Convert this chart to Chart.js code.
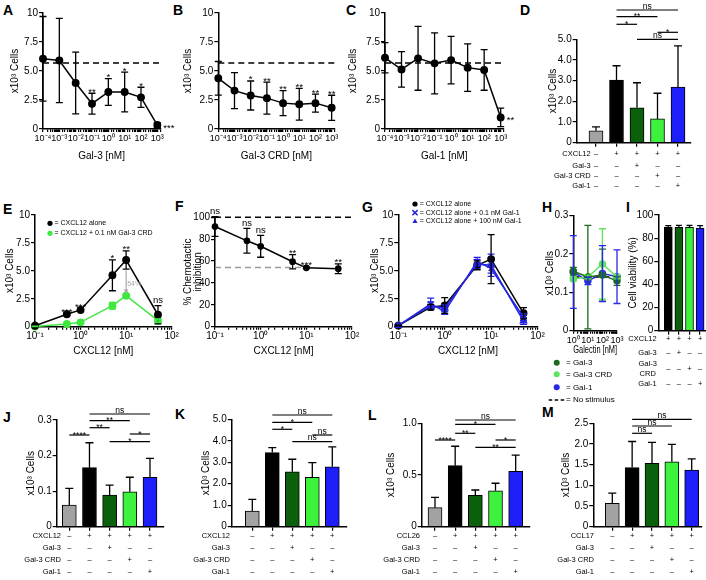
<!DOCTYPE html>
<html>
<head>
<meta charset="utf-8">
<title>Galectin chemotaxis</title>
<script src="https://cdn.jsdelivr.net/npm/chart.js@4.4.1/dist/chart.umd.min.js"></script>
<style>
  body { margin: 0; background: #fff; }
  #fig { position: relative; width: 706px; height: 580px; overflow: hidden; font-family: "Liberation Sans", Arial, sans-serif; }
  #fig canvas { position: absolute; }
  .lt { position: absolute; font-weight: bold; font-size: 14px; line-height: 14px; }
</style>
</head>
<body>
<div id="fig">
  <div class="lt" style="left:3px;top:3px">A</div>
  <div class="lt" style="left:173px;top:3px">B</div>
  <div class="lt" style="left:346px;top:3px">C</div>
  <div class="lt" style="left:520px;top:3px">D</div>
  <div class="lt" style="left:3px;top:202px">E</div>
  <div class="lt" style="left:175px;top:199px">F</div>
  <div class="lt" style="left:362px;top:200px">G</div>
  <div class="lt" style="left:542px;top:200px">H</div>
  <div class="lt" style="left:626px;top:200px">I</div>
  <div class="lt" style="left:3px;top:410px">J</div>
  <div class="lt" style="left:175px;top:407px">K</div>
  <div class="lt" style="left:368px;top:408px">L</div>
  <div class="lt" style="left:542px;top:405px">M</div>
</div>
<script>
const FONT = '"Liberation Sans", Arial, Helvetica, sans-serif';
Chart.defaults.font.family = FONT;
Chart.defaults.font.size = 10;
Chart.defaults.color = '#000';

// ---- A-C: galectin dose response (x10^3 cells) ----
const doses = [1e-4, 1e-3, 1e-2, 1e-1, 1, 10, 100, 1000];
const noStimulus = 5.7;
const gal3Cells = [6.05, 5.9, 3.97, 2.18, 3.19, 3.19, 2.73, 0.34];
const gal3Sd = [3.65, 3.63, 2.66, 0.9, 1.16, 1.72, 0.87, 0.2];
const gal3Sig = ['', '', '', '**', '*', '*', '*', '***'];
const crdCells = [4.37, 3.31, 2.89, 2.66, 2.23, 2.14, 2.23, 1.83];
const crdSd = [1.45, 1.55, 1.25, 1.38, 1.07, 1.37, 0.77, 1.08];
const crdSig = ['', '', '*', '**', '**', '**', '**', '**'];
const gal1Cells = [6.14, 5.14, 6.09, 5.66, 5.94, 5.29, 5.09, 1.0];
const gal1Sd = [1.3, 1.53, 2.75, 2.63, 2.05, 2.04, 1.75, 0.8];
const gal1Sig = ['', '', '', '', '', '', '', '**'];

// ---- E-G: CXCL12 titration ----
const conc = [0.1, 0.5, 1, 5, 10, 50];
const eAlone = [0.09, 1.11, 1.5, 4.6, 5.97, 1.07];
const eAloneSd = [0.05, 0.08, 0.1, 1.38, 0.82, 0.82];
const eCrd = [0.02, 0.24, 0.39, 1.88, 2.78, 0.54];
const eCrdSd = [0.02, 0.05, 0.05, 0.3, 0.1, 0.15];
const eSig = ['*', '***', '***', '*', '**', 'ns'];
const eDrop = '54%';
const fInhib = [91.6, 78.5, 73.5, 59.4, 53.8, 53];
const fSd = [9, 11.3, 10, 6.5, 0.8, 4.5];
const fSig = ['ns', 'ns', 'ns', '**', '***', '**'];
const fFull = 100, fPlateau = 54;
const gAlone = [0.1, 1.75, 1.9, 5.5, 6.05, 1.2];
const gAloneSd = [0.05, 0.25, 0.7, 0.4, 2.2, 0.5];
const gLow = [0.1, 2.05, 1.35, 5.85, 5.2, 0.85];
const gLowSd = [0.05, 0.5, 0.25, 0.35, 0.4, 0.3];
const gHigh = [0.1, 1.9, 1.65, 5.6, 5.5, 0.5];
const gHighSd = [0.05, 0.3, 0.3, 0.4, 1.0, 0.3];

// ---- H: galectin alone ----
const hDoses = [1, 10, 100, 1000];
const hGal3 = [0.155, 0.14, 0.145, 0.13];
const hGal3Sd = [0.01, 0.135, 0.068, 0.012];
const hCrd = [0.135, 0.14, 0.174, 0.14];
const hCrdSd = [0.005, 0.005, 0.092, 0.005];
const hGal1 = [0.153, 0.13, 0.149, 0.141];
const hGal1Sd = [0.095, 0.01, 0.073, 0.07];
const hNoStim = 0.14;

// ---- bar panels ----
const dCells = [0.58, 3.03, 1.69, 1.15, 2.69];
const dSd = [0.19, 0.69, 1.21, 1.24, 1.99];
const dSig = [[1, 4, 'ns'], [1, 3, '**'], [1, 2, '*'], [3, 4, '*'], [2, 4, 'ns']];
const iViab = [89.5, 89.3, 89.3, 88.8];
const iSd = [1.3, 1.8, 1.8, 2.0];
const jCells = [0.061, 0.166, 0.089, 0.098, 0.139];
const jSd = [0.047, 0.07, 0.028, 0.041, 0.053];
const jSig = [[1, 4, 'ns'], [1, 3, '**'], [1, 2, '**'], [0, 1, '****'], [3, 4, '*'], [2, 4, '*']];
const kCells = [0.73, 3.45, 2.56, 2.3, 2.79];
const kSd = [0.54, 0.23, 0.58, 0.68, 0.93];
const kSig = [[1, 4, 'ns'], [1, 3, '*'], [1, 2, '*'], [3, 4, 'ns'], [2, 4, 'ns']];
const lCells = [0.184, 0.59, 0.304, 0.348, 0.536];
const lSd = [0.1, 0.188, 0.051, 0.072, 0.157];
const lSig = [[1, 4, 'ns'], [1, 3, '*'], [1, 2, '**'], [0, 1, '****'], [3, 4, '*'], [2, 4, '**']];
const mCells = [0.566, 1.43, 1.53, 1.57, 1.37];
const mSd = [0.244, 0.63, 0.51, 0.42, 0.27];
const mSig = [[1, 4, 'ns'], [1, 3, 'ns'], [1, 2, 'ns']];
const gal3Row = '––+––', crdRow = '–––+–', gal1Row = '––––+', chemoRow = '–++++';

const GREY = '#a2a2a2', DKGREEN = '#0b600b', GREEN = '#3cf23c', BLUE = '#1e1ef8';
const barColors = [GREY, '#000', DKGREEN, GREEN, BLUE];

const SUP = {'-': '⁻', '0': '⁰', '1': '¹', '2': '²', '3': '³', '4': '⁴', '5': '⁵', '6': '⁶', '7': '⁷', '8': '⁸', '9': '⁹'};
function fmtLog(v) {
  const e = Math.log10(v), r = Math.round(e);
  if (Math.abs(e - r) > 1e-6) return '';
  return '10' + String(r).split('').map(c => SUP[c]).join('');
}
function fmtLin(v) {
  if (Math.abs(v) < 1e-9) return '0';
  const r = Math.round(v);
  return (v >= 10 && Math.abs(v - r) < 1e-6) ? String(r) : v.toFixed(1);
}

function ser(xs, ys, sd, color, style, extra) {
  return Object.assign({
    data: xs.map((x, i) => ({x: x, y: ys[i]})), err: sd,
    borderColor: color, backgroundColor: color, pointBackgroundColor: color, pointBorderColor: color,
    pointStyle: style, pointRadius: 3.2, pointBorderWidth: 1.5, borderWidth: 1.5, clip: false
  }, extra || {});
}
function flat(v, x0, x1, color) {
  return {data: [{x: x0, y: v}, {x: x1, y: v}], borderColor: color, borderDash: [6, 4],
          borderWidth: 1.5, pointRadius: 0, clip: false};
}
function bars(vals, sd, colors, thick) {
  return {data: vals.map((v, i) => ({x: i, y: v})), err: sd, upOnly: true, cap: thick > 10 ? 4 : 3,
          errColor: '#000', backgroundColor: colors, borderColor: '#000', borderWidth: 1,
          barThickness: thick, clip: false};
}

function drawMark(ctx, mk, color, x, y, r) {
  ctx.save();
  ctx.fillStyle = color; ctx.strokeStyle = color; ctx.lineWidth = 1.5;
  ctx.beginPath();
  if (mk === 'circle') { ctx.arc(x, y, r, 0, Math.PI * 2); ctx.fill(); }
  else if (mk === 'crossRot') { ctx.moveTo(x - r, y - r); ctx.lineTo(x + r, y + r); ctx.moveTo(x + r, y - r); ctx.lineTo(x - r, y + r); ctx.stroke(); }
  else if (mk === 'triangle') { ctx.moveTo(x, y - r); ctx.lineTo(x + r, y + r * 0.8); ctx.lineTo(x - r, y + r * 0.8); ctx.closePath(); ctx.fill(); }
  else if (mk === 'dash') { ctx.setLineDash([3.5, 2.5]); ctx.moveTo(x - 8, y); ctx.lineTo(x + 8, y); ctx.stroke(); }
  ctx.restore();
}

// asterisks sit high in the font, "ns" sits low
function textAbove(ctx, t, x, y, starDy, nsDy) {
  ctx.textAlign = 'center'; ctx.textBaseline = 'alphabetic';
  ctx.fillText(t, x, /^\*+$/.test(t) ? y + starDy : y + nsDy);
}

function extras(p) {
  return {
    id: 'extras',
    afterDatasetsDraw(chart) {
      const ctx = chart.ctx, xs = chart.scales.x, ys = chart.scales.y;
      const ox = p.box.x, oy = p.box.y;
      ctx.save();
      // error bars
      chart.data.datasets.forEach((ds, i) => {
        if (!ds.err) return;
        const pts = chart.getDatasetMeta(i).data;
        ctx.strokeStyle = ds.errColor || ds.borderColor;
        ctx.lineWidth = 1.3;
        const cap = ds.cap || 3.5;
        pts.forEach((el, j) => {
          const e = ds.err[j];
          if (!e) return;
          const v = ds.data[j].y;
          const yt = ys.getPixelForValue(v + e);
          const yb = ys.getPixelForValue(ds.upOnly ? v : v - e);
          ctx.beginPath();
          ctx.moveTo(el.x, yb); ctx.lineTo(el.x, yt);
          ctx.moveTo(el.x - cap, yt); ctx.lineTo(el.x + cap, yt);
          if (!ds.upOnly) { ctx.moveTo(el.x - cap, yb); ctx.lineTo(el.x + cap, yb); }
          ctx.stroke();
        });
      });
      ctx.fillStyle = '#000'; ctx.strokeStyle = '#000';
      // significance over points
      if (p.stars) {
        const ds = chart.data.datasets[0], pts = chart.getDatasetMeta(0).data;
        ctx.font = '9.5px ' + FONT;
        p.stars.labels.forEach((t, j) => {
          if (!t) return;
          const el = pts[j];
          if ((p.stars.right || []).includes(j)) {
            ctx.textAlign = 'left'; ctx.textBaseline = 'alphabetic';
            ctx.fillText(t, el.x + 6, el.y + 5.5);
          } else {
            textAbove(ctx, t, el.x, ys.getPixelForValue(ds.data[j].y + (ds.err[j] || 0)), 1.5, -2.5);
          }
        });
      }
      // comparison brackets
      if (p.sig) {
        ctx.lineWidth = 1.2; ctx.font = '8.5px ' + FONT;
        p.sig.list.forEach(([i1, i2, t], k) => {
          const y = p.sig.ys[k] - oy, x1 = xs.getPixelForValue(i1), x2 = xs.getPixelForValue(i2);
          ctx.beginPath(); ctx.moveTo(x1, y); ctx.lineTo(x2, y); ctx.stroke();
          textAbove(ctx, t, (x1 + x2) / 2, y, 2.5, -1.5);
        });
      }
      // treatment table
      if (p.table) {
        ctx.font = '7.5px ' + FONT; ctx.textBaseline = 'middle';
        p.table.rows.forEach(([label, marks], r) => {
          const y = p.area.b - oy + p.table.dy[r];
          const lines = label.split('\n');
          if (lines.length > 1) {
            ctx.textAlign = 'center';
            lines.forEach((ln, k) => ctx.fillText(ln, p.table.lx - ox - 9, y + (k - (lines.length - 1) / 2) * 10));
          } else {
            ctx.textAlign = 'right';
            ctx.fillText(label, p.table.lx - ox, y);
          }
          ctx.textAlign = 'center';
          marks.split('').forEach((m, i) => ctx.fillText(m, xs.getPixelForValue(i), y));
        });
      }
      // legend
      if (p.legend) {
        p.legend.items.forEach(it => {
          const ds = chart.data.datasets[it.ds];
          const y = it.y - oy;
          drawMark(ctx, it.mk, ds.borderColor, p.legend.mx - ox, y, p.legend.r);
          ctx.fillStyle = '#000'; ctx.font = p.legend.font;
          ctx.textAlign = 'left'; ctx.textBaseline = 'middle';
          ctx.fillText(it.text, p.legend.tx - ox, y);
        });
      }
      if (p.extra) p.extra(chart, ctx);
      ctx.restore();
    }
  };
}

function axisBase() {
  return {border: {display: true, color: '#000', width: 1.5},
          grid: {drawOnChartArea: false, drawTicks: true, tickLength: 4, color: '#000', lineWidth: 1.2}};
}

const fig = document.getElementById('fig');
function makePanel(p) {
  const b = p.box, a = p.area;
  const cv = document.createElement('canvas');
  cv.width = b.w; cv.height = b.h;
  cv.style.left = b.x + 'px'; cv.style.top = b.y + 'px';
  fig.appendChild(cv);
  const lh = p.y.lh || 1.2;
  const yScale = Object.assign(axisBase(), {
    type: 'linear', min: p.y.min, max: p.y.max,
    ticks: {stepSize: p.y.step, padding: 1, callback: fmtLin},
    title: {display: true, text: p.y.title, font: {size: 10, lineHeight: lh},
            padding: {top: p.y.tx - b.x - 5 * lh, bottom: 0}},
    afterFit: s => { s.width = a.l - b.x; }
  });
  let xScale;
  if (p.kind === 'bar') {
    xScale = Object.assign(axisBase(), {
      type: 'linear', offset: false,
      min: (a.l - p.bars.first) / p.bars.step, max: (a.r - p.bars.first) / p.bars.step,
      ticks: {display: false},
      afterBuildTicks: s => { s.ticks = s.chart.data.datasets[0].data.map((d, i) => ({value: i})); },
      afterFit: s => { s.height = b.y + b.h - a.b; }
    });
    xScale.grid.offset = false;
  } else {
    xScale = Object.assign(axisBase(), {
      type: 'logarithmic', min: p.x.min, max: p.x.max,
      ticks: {autoSkip: false, maxRotation: 0, padding: 1, font: {size: p.x.fs || 10}, callback: fmtLog},
      title: {display: true, text: p.x.title, font: {size: 10}, padding: {top: 0, bottom: b.y + b.h - p.x.ty - 6}},
      afterFit: s => { s.height = b.y + b.h - a.b; }
    });
    xScale.grid.tickLength = 3;
  }
  new Chart(cv, {
    type: p.kind === 'bar' ? 'bar' : 'line',
    data: {datasets: p.datasets},
    options: {
      responsive: false, animation: false, events: [], devicePixelRatio: 1,
      layout: {padding: {left: 0, top: a.t - b.y, right: b.x + b.w - a.r, bottom: 0}},
      scales: {x: xScale, y: yScale},
      plugins: {legend: {display: false}, tooltip: {enabled: false}}
    },
    plugins: [extras(p)]
  });
}

const cellsTitle = 'x10³ Cells';
const rows5 = chemo => [[chemo, chemoRow], ['Gal-3', gal3Row], ['Gal-3 CRD', crdRow], ['Gal-1', gal1Row]];

// A
makePanel({kind: 'line', box: {x: 0, y: 0, w: 178, h: 170}, area: {l: 43, r: 160.2, t: 13, b: 129},
  y: {min: 0, max: 10, step: 2.5, title: cellsTitle, tx: 15},
  x: {min: 1e-4, max: 1500, title: 'Gal-3 [nM]', ty: 156, fs: 9},
  datasets: [ser(doses, gal3Cells, gal3Sd, '#000', 'circle'), flat(noStimulus, 1e-4, 1500, '#000')],
  stars: {labels: gal3Sig, right: [7]}});
// B
makePanel({kind: 'line', box: {x: 178, y: 0, w: 170, h: 170}, area: {l: 218.3, r: 334.5, t: 13, b: 129},
  y: {min: 0, max: 10, step: 2.5, title: cellsTitle, tx: 188.3},
  x: {min: 1e-4, max: 1500, title: 'Gal-3 CRD [nM]', ty: 156, fs: 9},
  datasets: [ser(doses, crdCells, crdSd, '#000', 'circle'), flat(noStimulus, 1e-4, 1500, '#000')],
  stars: {labels: crdSig}});
// C
makePanel({kind: 'line', box: {x: 345, y: 0, w: 175, h: 170}, area: {l: 385, r: 503.6, t: 13, b: 129},
  y: {min: 0, max: 10, step: 2.5, title: cellsTitle, tx: 353.3},
  x: {min: 1e-4, max: 1500, title: 'Gal-1 [nM]', ty: 156, fs: 9},
  datasets: [ser(doses, gal1Cells, gal1Sd, '#000', 'circle'), flat(noStimulus, 1e-4, 1500, '#000')],
  stars: {labels: gal1Sig, right: [7]}});
// D
makePanel({kind: 'bar', box: {x: 545, y: 0, w: 161, h: 195}, area: {l: 576.7, r: 690.7, t: 39.3, b: 142.7},
  bars: {first: 596, step: 20.5},
  y: {min: 0, max: 5, step: 1, title: cellsTitle, tx: 553.3},
  datasets: [bars(dCells, dSd, barColors, 14)],
  sig: {list: dSig, ys: [10, 16.7, 24.3, 32.3, 39.3]},
  table: {rows: rows5('CXCL12'), dy: [11.3, 23, 33, 43], lx: 590.7}});
// E
makePanel({kind: 'line', box: {x: 0, y: 195, w: 185, h: 165}, area: {l: 35, r: 171.7, t: 215, b: 326.7},
  y: {min: 0, max: 10, step: 2.5, title: cellsTitle, tx: 10},
  x: {min: 0.1, max: 100, title: 'CXCL12 [nM]', ty: 351.7},
  datasets: [ser(conc, eAlone, eAloneSd, '#000', 'circle'), ser(conc, eCrd, eCrdSd, '#3fe83f', 'circle')],
  stars: {labels: eSig},
  legend: {mx: 50, tx: 54.5, r: 2.6, font: '7px ' + FONT, items: [
    {ds: 0, mk: 'circle', y: 223.3, text: '= CXCL12 alone'},
    {ds: 1, mk: 'circle', y: 233.3, text: '= CXCL12 + 0.1 nM Gal-3 CRD'}]},
  extra: (chart, ctx) => {
    const xs = chart.scales.x, ys = chart.scales.y;
    const x = xs.getPixelForValue(conc[4]);
    const y1 = ys.getPixelForValue(eAlone[4] - eAloneSd[4]) + 1;
    const y2 = ys.getPixelForValue(eCrd[4] + eCrdSd[4]) - 1;
    ctx.strokeStyle = '#aaa'; ctx.fillStyle = '#aaa'; ctx.lineWidth = 1.2;
    ctx.beginPath(); ctx.moveTo(x, y1); ctx.lineTo(x, y2 - 3); ctx.stroke();
    ctx.beginPath(); ctx.moveTo(x - 2.5, y2 - 4); ctx.lineTo(x + 2.5, y2 - 4); ctx.lineTo(x, y2); ctx.closePath(); ctx.fill();
    ctx.font = '7px ' + FONT; ctx.textAlign = 'left'; ctx.textBaseline = 'middle';
    ctx.fillText(eDrop, x + 1, (y1 + y2) / 2 + 2);
  }});
// F
makePanel({kind: 'line', box: {x: 178, y: 195, w: 185, h: 165}, area: {l: 215, r: 352, t: 217.3, b: 326.7},
  y: {min: 0, max: 100, step: 20, title: ['% Chemotactic', 'inhibition'], tx: 188.5, lh: 1},
  x: {min: 0.1, max: 100, title: 'CXCL12 [nM]', ty: 351.7},
  datasets: [ser(conc, fInhib, fSd, '#000', 'circle', {pointRadius: 2.6}),
             flat(fFull, 0.1, 100, '#000'), flat(fPlateau, 0.1, 10, '#9a9a9a')],
  stars: {labels: fSig}});
// G
makePanel({kind: 'line', box: {x: 363, y: 195, w: 185, h: 165}, area: {l: 398.3, r: 537.5, t: 215, b: 326.7},
  y: {min: 0, max: 10, step: 2.5, title: cellsTitle, tx: 375},
  x: {min: 0.1, max: 100, title: 'CXCL12 [nM]', ty: 351.7},
  datasets: [ser(conc, gLow, gLowSd, '#2424e0', 'crossRot', {pointRadius: 3.5}),
             ser(conc, gHigh, gHighSd, '#2424e0', 'triangle', {pointRadius: 3.5}),
             ser(conc, gAlone, gAloneSd, '#000', 'circle')],
  legend: {mx: 415, tx: 419.7, r: 2.6, font: '7px ' + FONT, items: [
    {ds: 2, mk: 'circle', y: 204, text: '= CXCL12 alone'},
    {ds: 0, mk: 'crossRot', y: 212.7, text: '= CXCL12 alone + 0.1 nM Gal-1'},
    {ds: 1, mk: 'triangle', y: 221, text: '= CXCL12 alone + 100 nM Gal-1'}]}});
// H
makePanel({kind: 'line', box: {x: 540, y: 195, w: 90, h: 215}, area: {l: 573.3, r: 617, t: 215.7, b: 330.7},
  y: {min: 0, max: 0.3, step: 0.1, title: cellsTitle, tx: 550},
  x: {min: 1, max: 1000, title: 'Galectin [nM]', ty: 350.7, fs: 9},
  datasets: [ser(hDoses, hGal3, hGal3Sd, '#1c6a1c', 'circle', {pointRadius: 3}),
             ser(hDoses, hCrd, hCrdSd, '#5ee35e', 'circle', {pointRadius: 3}),
             ser(hDoses, hGal1, hGal1Sd, '#2828e6', 'circle', {pointRadius: 3}),
             flat(hNoStim, 1, 1000, '#000')],
  legend: {mx: 556.7, tx: 566, r: 3, font: '8px ' + FONT, items: [
    {ds: 0, mk: 'circle', y: 362.7, text: '= Gal-3'},
    {ds: 1, mk: 'circle', y: 374.3, text: '= Gal-3 CRD'},
    {ds: 2, mk: 'circle', y: 387.3, text: '= Gal-1'},
    {ds: 3, mk: 'dash', y: 400, text: '= No stimulus'}]}});
// I
makePanel({kind: 'bar', box: {x: 625, y: 195, w: 81, h: 200}, area: {l: 658.3, r: 706, t: 215, b: 330.7},
  bars: {first: 668.3, step: 10.6},
  y: {min: 0, max: 100, step: 20, title: 'Cell viability (%)', tx: 633},
  datasets: [bars(iViab, iSd, ['#000', DKGREEN, GREEN, BLUE], 8)],
  table: {rows: [['CXCL12', '++++'], ['Gal-3', '–+––'], ['Gal-3\nCRD', '––+–'], ['Gal-1', '–––+']],
          dy: [8.6, 22.6, 38.3, 53.6], lx: 656.7}});
// J
makePanel({kind: 'bar', box: {x: 22, y: 395, w: 153, h: 185}, area: {l: 56.7, r: 163.3, t: 420, b: 526.7},
  bars: {first: 69.3, step: 20.17},
  y: {min: 0, max: 0.3, step: 0.1, title: cellsTitle, tx: 31.7},
  datasets: [bars(jCells, jSd, barColors, 14)],
  sig: {list: jSig, ys: [414, 420.7, 427.7, 435, 434, 441.7]},
  table: {rows: rows5('CXCL12'), dy: [9, 21.6, 33.3, 45], lx: 61}});
// K
makePanel({kind: 'bar', box: {x: 190, y: 395, w: 165, h: 185}, area: {l: 231.7, r: 346.7, t: 419.3, b: 526.7},
  bars: {first: 252.3, step: 20},
  y: {min: 0, max: 5, step: 1, title: cellsTitle, tx: 206.7},
  datasets: [bars(kCells, kSd, barColors, 14)],
  sig: {list: kSig, ys: [415, 422.3, 429.3, 435, 441.7]},
  table: {rows: rows5('CXCL12'), dy: [9, 21.6, 33.3, 45], lx: 230}});
// L
makePanel({kind: 'bar', box: {x: 370, y: 395, w: 170, h: 185}, area: {l: 421.7, r: 530, t: 423.3, b: 526.7},
  bars: {first: 435, step: 20.17},
  y: {min: 0, max: 1, step: 0.5, title: cellsTitle, tx: 391.7},
  datasets: [bars(lCells, lSd, barColors, 14)],
  sig: {list: lSig, ys: [420, 424.3, 433.3, 440, 440, 447.3]},
  table: {rows: rows5('CCL26'), dy: [9, 21.6, 33.3, 45], lx: 420}});
// M
makePanel({kind: 'bar', box: {x: 540, y: 395, w: 166, h: 185}, area: {l: 593.3, r: 702, t: 423.3, b: 526.7},
  bars: {first: 612.3, step: 19.85},
  y: {min: 0, max: 2.5, step: 0.5, title: cellsTitle, tx: 566.7},
  datasets: [bars(mCells, mSd, barColors, 14)],
  sig: {list: mSig, ys: [419.3, 426, 433.3]},
  table: {rows: rows5('CCL17'), dy: [9, 21.6, 33.3, 45], lx: 594}});
</script>
</body>
</html>
